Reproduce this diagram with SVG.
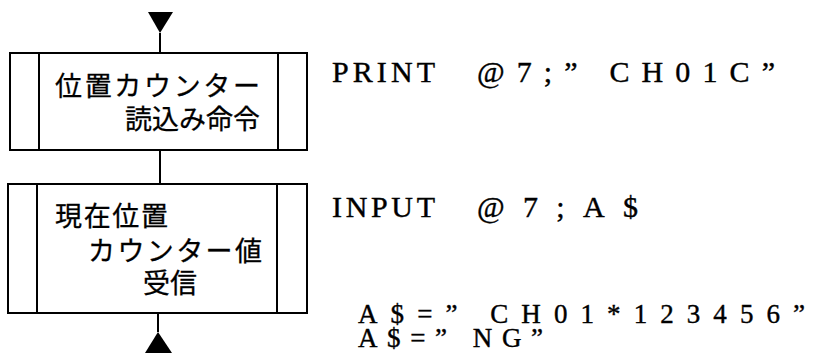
<svg xmlns="http://www.w3.org/2000/svg" width="815" height="361" viewBox="0 0 815 361">
<style>
.box{fill:none;stroke:#000;stroke-width:2}
.ln{stroke:#000;stroke-width:2;fill:none}
.jp{font-family:"Noto Sans CJK JP","Noto Sans",sans-serif;font-size:27px;fill:#000;stroke:#000;stroke-width:0.3}
.code{font-family:"Liberation Serif","Times New Roman",serif;font-size:30px;fill:#000;stroke:#000;stroke-width:0.4}
.code2{font-family:"Liberation Serif","Times New Roman",serif;font-size:27px;fill:#000;stroke:#000;stroke-width:0.4}
</style>
<rect width="815" height="361" fill="#fff"/>
<g id="connectors">
<polygon points="148,12 173,12 160,33" fill="#000"/>
<line class="ln" x1="160" y1="33" x2="160" y2="53"/>
<line class="ln" x1="160" y1="150" x2="160" y2="184"/>
<line class="ln" x1="158" y1="313" x2="158" y2="332"/>
<polygon points="158,332 145,353 172,353" fill="#000"/>
</g>
<g id="node1">
<rect class="box" x="10" y="53" width="297" height="97"/>
<line class="ln" x1="39" y1="53" x2="39" y2="150"/>
<line class="ln" x1="278" y1="53" x2="278" y2="150"/>
<text class="jp" x="55" y="96" textLength="205">位置カウンター</text>
<text class="jp" x="260" y="129" text-anchor="end">読込み命令</text>
</g>
<g id="node2">
<rect class="box" x="8" y="184" width="299" height="129"/>
<line class="ln" x1="37" y1="184" x2="37" y2="313"/>
<line class="ln" x1="277" y1="184" x2="277" y2="313"/>
<text class="jp" x="55" y="226" textLength="113">現在位置</text>
<text class="jp" x="88" y="261" textLength="174">カウンター値</text>
<text class="jp" x="143" y="293">受信</text>
</g>
<g id="code">
<text class="code" x="332" y="82" textLength="103" lengthAdjust="spacing">PRINT</text>
<text class="code" x="477" y="82" textLength="298" lengthAdjust="spacing">@7;” CH01C”</text>
<text class="code" x="332" y="217" textLength="103" lengthAdjust="spacing">INPUT</text>
<text class="code" x="477" y="217" textLength="161" lengthAdjust="spacing">@7;A$</text>
<text class="code2" x="358" y="323" textLength="447" lengthAdjust="spacing">A$=” CH01*123456”</text>
<text class="code2" x="358" y="347" textLength="185" lengthAdjust="spacing">A$=” NG”</text>
</g>
</svg>
